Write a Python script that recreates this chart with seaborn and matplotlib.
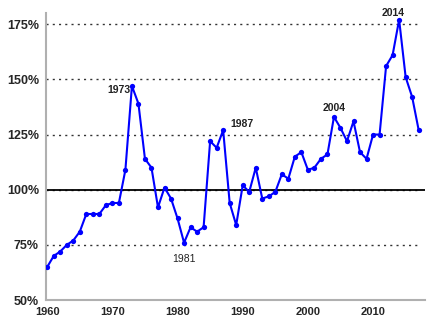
import numpy as np
import pandas as pd
import matplotlib
matplotlib.use("Agg")
import matplotlib.pyplot as plt
import seaborn as sns

years = list(range(1960, 2018))
values = [65, 70, 72, 75, 77, 81, 89, 89, 89, 93, 94, 94, 109, 147, 139, 114,
          110, 92, 101, 96, 87, 76, 83, 81, 83, 122, 119, 127, 94, 84, 102, 99,
          110, 96, 97, 99, 107, 105, 115, 117, 109, 110, 114, 116, 133, 128, 122,
          131, 117, 114, 125, 125, 156, 161, 177, 151, 142, 127]
labels = {1973: "1973", 1981: "1981", 1987: "1987", 2004: "2004", 2014: "2014"}
ytick_vals = [50, 75, 100, 125, 150, 175]
xtick_labels = [1960, 1970, 1980, 1990, 2000, 2010]

df = pd.DataFrame({"year": years, "value": values})

sns.set_style("white")
plt.rcParams["font.family"] = ["Liberation Sans", "DejaVu Sans"]

fig = plt.figure(figsize=(4.37, 3.28), dpi=100)
ax = fig.add_axes([0.105, 0.085, 0.868, 0.875])

# grid lines
for v in ytick_vals[1:]:
    ax.axhline(v, xmax=0.99, color="#333333", linestyle=(0, (1.5, 3)), linewidth=1.0, zorder=1)
ax.axhline(100, color="black", linewidth=1.3, zorder=2)

sns.lineplot(data=df, x="year", y="value", ax=ax, color="#0000ff", linewidth=1.5,
             marker="o", markersize=3.8, markeredgewidth=0, zorder=3)

# labels on notable years
offsets = {1973: (-1, -3, "right", "center"),
           1981: (0, -8, "center", "top"),
           1987: (5, 1, "left", "bottom"),
           2004: (0, 3, "center", "bottom"),
           2014: (-4, 1, "center", "bottom")}
for yr, txt in labels.items():
    dx, dy, ha, va = offsets[yr]
    ax.annotate(txt, (yr, values[years.index(yr)]), xytext=(dx, dy),
                textcoords="offset points", ha=ha, va=va, fontsize=7.5,
                fontweight="bold" if yr != 1981 else "normal", color="#222222")

ax.set_xlim(1959.8, 2018)
ax.set_ylim(50, 180)
ax.set_xticks(range(1960, 2016, 5))
ax.set_xticklabels([str(x) if x in xtick_labels else "" for x in range(1960, 2016, 5)])
ax.set_yticks(ytick_vals)
ax.set_yticklabels([f"{v}%" for v in ytick_vals])
ax.set_xlabel("")
ax.set_ylabel("")

for side in ["top", "right"]:
    ax.spines[side].set_visible(False)
for side in ["left", "bottom"]:
    ax.spines[side].set_color("#b0b0b0")
    ax.spines[side].set_linewidth(1.5)

ax.tick_params(axis="x", direction="inout", length=6, width=1, color="#909090",
               labelsize=8, pad=2)
ax.tick_params(axis="y", direction="out", length=4, width=1, color="#909090",
               labelsize=9, pad=1)
for lab in ax.get_xticklabels() + ax.get_yticklabels():
    lab.set_fontweight("bold")

fig.savefig("out.png", dpi=100)
